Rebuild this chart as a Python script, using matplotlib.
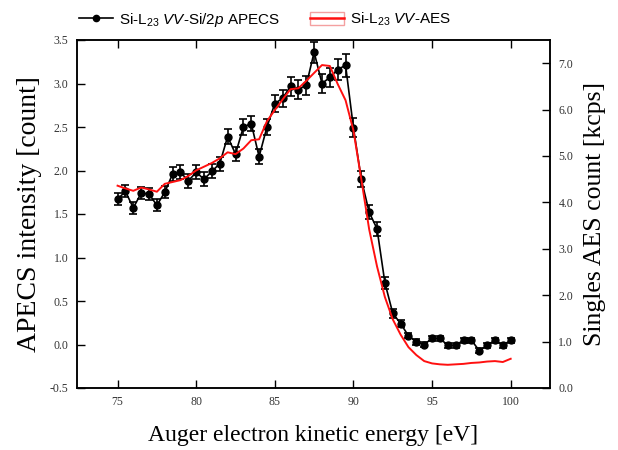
import matplotlib
matplotlib.use("Agg")
import matplotlib.pyplot as plt
from matplotlib.lines import Line2D
from matplotlib.patches import Patch
from matplotlib.legend_handler import HandlerTuple

plt.rcParams['mathtext.fontset'] = 'custom'
plt.rcParams['mathtext.rm'] = 'Liberation Sans'
plt.rcParams['mathtext.it'] = 'Liberation Sans:italic'
plt.rcParams['mathtext.bf'] = 'Liberation Sans:bold'

# ---- data ----
energy = [75.0, 75.5, 76.0, 76.5, 77.0, 77.5, 78.0, 78.5, 79.0, 79.5,
          80.0, 80.5, 81.0, 81.5, 82.0, 82.5, 83.0, 83.5, 84.0, 84.5,
          85.0, 85.5, 86.0, 86.5, 87.0, 87.5, 88.0, 88.5, 89.0, 89.5,
          90.0, 90.5, 91.0, 91.5, 92.0, 92.5, 93.0, 93.5, 94.0, 94.5,
          95.0, 95.5, 96.0, 96.5, 97.0, 97.5, 98.0, 98.5, 99.0, 99.5, 100.0]

apecs = [1.67, 1.76, 1.57, 1.74, 1.73, 1.60, 1.75, 1.96, 1.98, 1.88,
         1.98, 1.90, 1.99, 2.08, 2.39, 2.19, 2.50, 2.54, 2.16, 2.50,
         2.77, 2.83, 2.97, 2.93, 2.98, 3.36, 3.00, 3.07, 3.16, 3.21,
         2.49, 1.90, 1.52, 1.33, 0.71, 0.36, 0.24, 0.10, 0.03, 0.00,
         0.07, 0.07, -0.01, -0.01, 0.05, 0.05, -0.07, -0.01, 0.05, -0.01, 0.05]

apecs_err = [0.07, 0.07, 0.07, 0.07, 0.07, 0.07, 0.07, 0.08, 0.08, 0.08,
             0.08, 0.08, 0.08, 0.08, 0.09, 0.08, 0.09, 0.09, 0.09, 0.09,
             0.10, 0.10, 0.11, 0.11, 0.11, 0.12, 0.11, 0.11, 0.12, 0.13,
             0.11, 0.09, 0.08, 0.08, 0.07, 0.05, 0.04, 0.03, 0.03, 0.03,
             0.03, 0.03, 0.03, 0.03, 0.03, 0.03, 0.03, 0.03, 0.03, 0.03, 0.03]

aes = [4.36, 4.30, 4.25, 4.32, 4.28, 4.23, 4.40, 4.44, 4.48, 4.57,
       4.69, 4.77, 4.85, 4.95, 5.08, 5.04, 5.16, 5.34, 5.36, 5.75,
       5.99, 6.22, 6.44, 6.46, 6.62, 6.79, 6.96, 6.94, 6.55, 6.20,
       5.55, 4.50, 3.42, 2.62, 1.96, 1.48, 1.15, 0.88, 0.71, 0.58,
       0.53, 0.51, 0.50, 0.51, 0.52, 0.54, 0.55, 0.57, 0.58, 0.56, 0.63]

x_ticks = [75, 80, 85, 90, 95, 100]
left_ticks = [-0.5, 0.0, 0.5, 1.0, 1.5, 2.0, 2.5, 3.0, 3.5]
right_ticks = [0.0, 1.0, 2.0, 3.0, 4.0, 5.0, 6.0, 7.0]

label_apecs = r"Si-L$_{23}$ $\mathit{VV}$-Si/2$\mathit{p}$ APECS"
label_aes = r"Si-L$_{23}$ $\mathit{VV}$-AES"

# ---- figure ----
fig = plt.figure(figsize=(6.18, 4.5), dpi=100)
ax = fig.add_axes([77 / 618, 1 - 388 / 450, (550 - 77) / 618, (388 - 40) / 450])
ax2 = ax.twinx()

ax.errorbar(energy, apecs, yerr=apecs_err, fmt='-o', color='black',
            ms=5, lw=1.2, elinewidth=1.2, capsize=3, capthick=1.2)
ax2.plot(energy, aes, color='#ff1010', lw=1.4)

ax.set_xlim(72.42, 102.5)
ax.set_ylim(-0.5, 3.5)
ax2.set_ylim(0, 7.5)

ax.set_xticks(x_ticks)
ax.set_yticks(left_ticks)
ax.set_yticklabels([f"{v:.1f}" for v in left_ticks])
ax2.set_yticks(right_ticks)
ax2.set_yticklabels([f"{v:.1f}" for v in right_ticks])

for a in (ax, ax2):
    for lab in a.get_xticklabels() + a.get_yticklabels():
        lab.set_fontfamily('Liberation Serif')
        lab.set_fontsize(8.5)
        lab.set_color('#333333')
    for sp in a.spines.values():
        sp.set_linewidth(1.1)

ax.tick_params(axis='x', direction='in', length=5.5, width=1.0, top=True, pad=6)
ax.tick_params(axis='y', direction='in', length=5.5, width=1.0, pad=6)
ax2.tick_params(axis='y', direction='in', length=5.5, width=1.0, pad=6)

ax.set_xlabel("Auger electron kinetic energy [eV]", family='Liberation Serif',
              fontsize=17, labelpad=12)
ax.set_ylabel("APECS intensity [count]", family='Liberation Serif',
              fontsize=20, labelpad=6)
ax2.set_ylabel("Singles AES count [kcps]", family='Liberation Serif',
               fontsize=18.5, labelpad=8)

h1 = Line2D([], [], color='black', marker='o', ms=4.5, lw=1.2)
h2 = (Patch(facecolor='white', edgecolor='#f4a0a0', lw=1.0),
      Line2D([], [], color='#ff1010', lw=1.8))
fig.legend([h1, h2], [label_apecs, label_aes],
           handler_map={tuple: HandlerTuple(ndivide=1, pad=0)},
           loc='center', bbox_to_anchor=(265 / 618, 1 - 20 / 450), ncol=2,
           frameon=False, prop=dict(family='Liberation Sans', size=11),
           handlelength=2.2, handleheight=0.9, handletextpad=0.4,
           columnspacing=2.0)

fig.savefig("out.png", dpi=100)
